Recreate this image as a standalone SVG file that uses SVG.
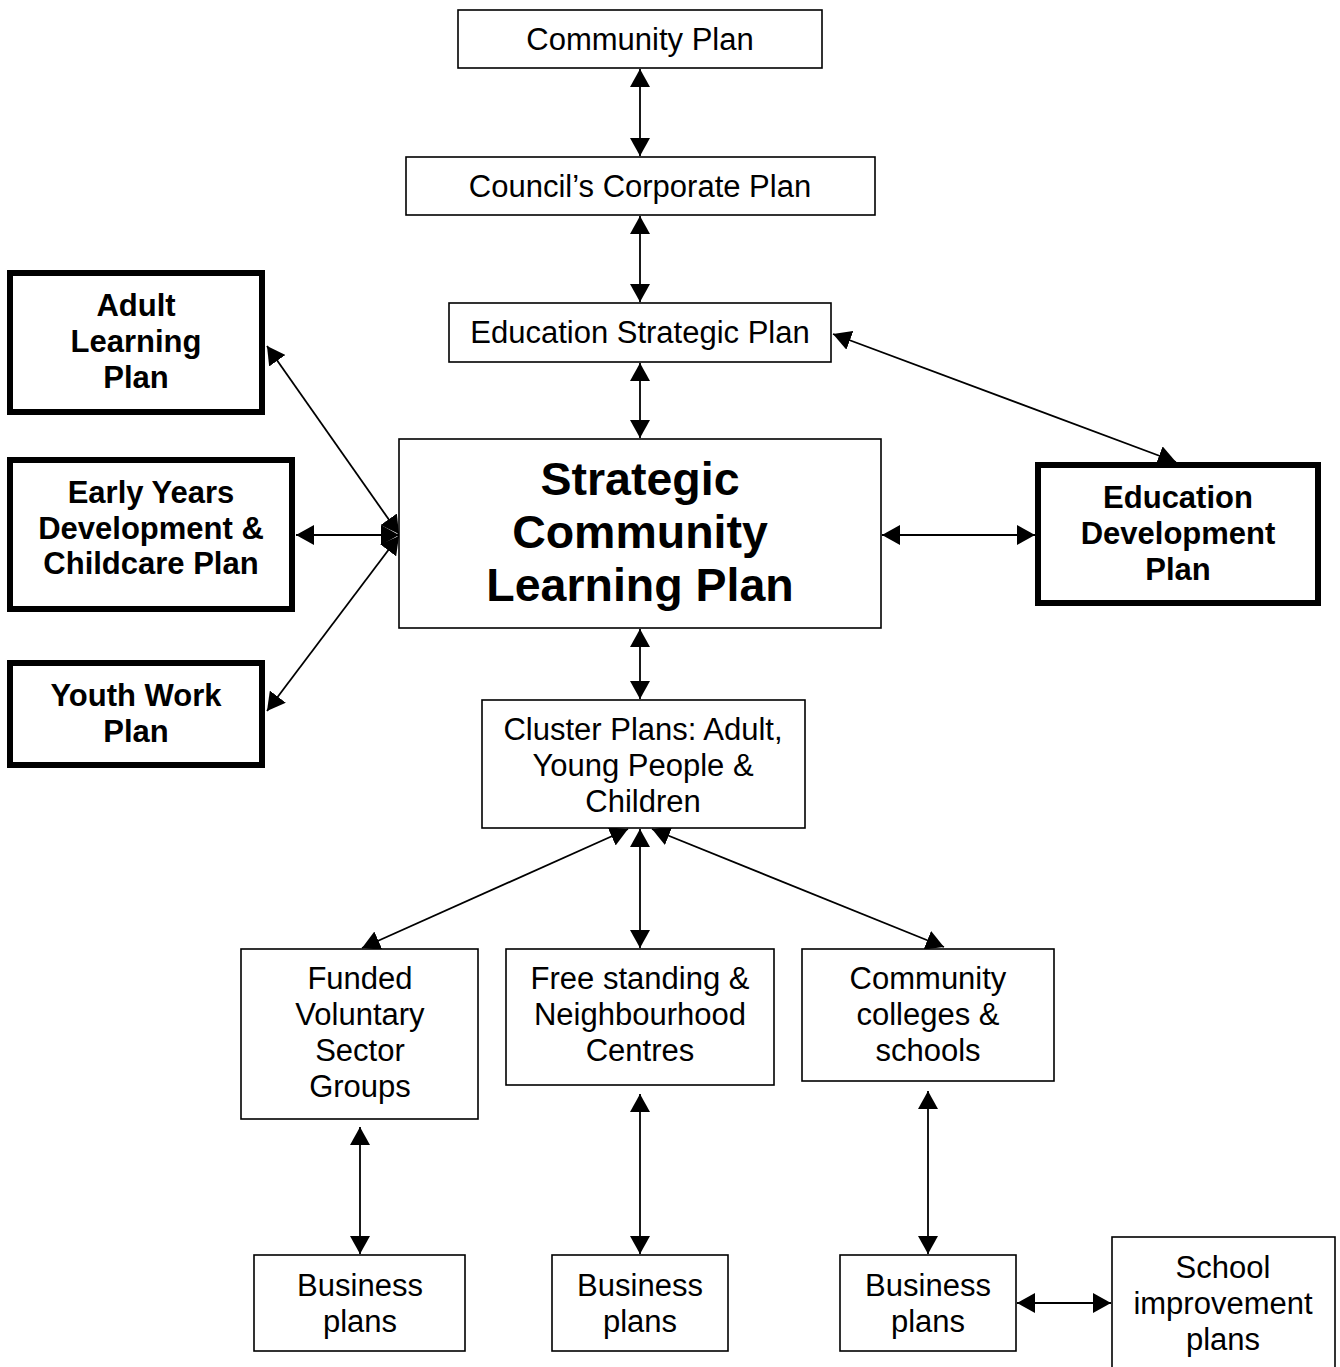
<svg xmlns="http://www.w3.org/2000/svg" width="1340" height="1367" viewBox="0 0 1340 1367">
<defs>
<style>
.box{fill:#fff;stroke:#000;stroke-width:1.6}
.thick{fill:#fff;stroke:#000;stroke-width:6}
.t{font-family:"Liberation Sans",Arial,sans-serif;font-size:31px;text-anchor:middle;fill:#000}
.b{font-family:"Liberation Sans",Arial,sans-serif;font-size:31px;font-weight:bold;text-anchor:middle;fill:#000}
.big{font-family:"Liberation Sans",Arial,sans-serif;font-size:46.5px;font-weight:bold;text-anchor:middle;fill:#000}
.c{stroke:#000;stroke-width:1.8;fill:none;marker-start:url(#ah);marker-end:url(#ah)}
</style>
<marker id="ah" viewBox="0 0 18 20" refX="18" refY="10" markerWidth="18" markerHeight="20" markerUnits="userSpaceOnUse" orient="auto-start-reverse">
<path d="M0,0 L18,10 L0,20 z" fill="#000"/>
</marker>
</defs>
<rect width="1340" height="1367" fill="#fff"/>

<g id="connectors">
<line class="c" x1="640" y1="69" x2="640" y2="156"/>
<line class="c" x1="640" y1="216" x2="640" y2="302"/>
<line class="c" x1="640" y1="363" x2="640" y2="438"/>
<line class="c" x1="640" y1="629" x2="640" y2="699"/>
<line class="c" x1="833" y1="334" x2="1176" y2="462"/>
<line class="c" x1="882" y1="535" x2="1035" y2="535"/>
<line class="c" x1="267" y1="346" x2="399" y2="534"/>
<line class="c" x1="296" y1="535" x2="399" y2="535"/>
<line class="c" x1="267" y1="711" x2="399" y2="536"/>
<line class="c" x1="628" y1="829" x2="362" y2="948"/>
<line class="c" x1="640" y1="829" x2="640" y2="948"/>
<line class="c" x1="652" y1="829" x2="944" y2="947"/>
<line class="c" x1="360" y1="1127" x2="360" y2="1254"/>
<line class="c" x1="640" y1="1094" x2="640" y2="1254"/>
<line class="c" x1="928" y1="1091" x2="928" y2="1254"/>
<line class="c" x1="1017" y1="1303" x2="1111" y2="1303"/>
</g>

<g id="community-plan">
<rect class="box" x="458" y="10" width="364" height="58"/>
<text class="t" x="640" y="50">Community Plan</text>
</g>
<g id="councils-corporate-plan">
<rect class="box" x="406" y="157" width="469" height="58"/>
<text class="t" x="640" y="197">Council’s Corporate Plan</text>
</g>
<g id="education-strategic-plan">
<rect class="box" x="449" y="303" width="382" height="59"/>
<text class="t" x="640" y="343">Education Strategic Plan</text>
</g>
<g id="strategic-community-learning-plan">
<rect class="box" x="399" y="439" width="482" height="189"/>
<text class="big" x="640" y="495">Strategic</text>
<text class="big" x="640" y="548">Community</text>
<text class="big" x="640" y="601">Learning Plan</text>
</g>
<g id="adult-learning-plan">
<rect class="thick" x="10" y="273" width="252" height="139"/>
<text class="b" x="136" y="316">Adult</text>
<text class="b" x="136" y="352">Learning</text>
<text class="b" x="136" y="388">Plan</text>
</g>
<g id="early-years-plan">
<rect class="thick" x="10" y="460" width="282" height="149"/>
<text class="b" x="151" y="503">Early Years</text>
<text class="b" x="151" y="539">Development &amp;</text>
<text class="b" x="151" y="574">Childcare Plan</text>
</g>
<g id="youth-work-plan">
<rect class="thick" x="10" y="663" width="252" height="102"/>
<text class="b" x="136" y="706">Youth Work</text>
<text class="b" x="136" y="742">Plan</text>
</g>
<g id="education-development-plan">
<rect class="thick" x="1038" y="465" width="280" height="138"/>
<text class="b" x="1178" y="508">Education</text>
<text class="b" x="1178" y="544">Development</text>
<text class="b" x="1178" y="580">Plan</text>
</g>
<g id="cluster-plans">
<rect class="box" x="482" y="700" width="323" height="128"/>
<text class="t" x="643" y="740">Cluster Plans: Adult,</text>
<text class="t" x="643" y="776">Young People &amp;</text>
<text class="t" x="643" y="812">Children</text>
</g>
<g id="funded-voluntary">
<rect class="box" x="241" y="949" width="237" height="170"/>
<text class="t" x="360" y="989">Funded</text>
<text class="t" x="360" y="1025">Voluntary</text>
<text class="t" x="360" y="1061">Sector</text>
<text class="t" x="360" y="1097">Groups</text>
</g>
<g id="free-standing">
<rect class="box" x="506" y="949" width="268" height="136"/>
<text class="t" x="640" y="989">Free standing &amp;</text>
<text class="t" x="640" y="1025">Neighbourhood</text>
<text class="t" x="640" y="1061">Centres</text>
</g>
<g id="community-colleges">
<rect class="box" x="802" y="949" width="252" height="132"/>
<text class="t" x="928" y="989">Community</text>
<text class="t" x="928" y="1025">colleges &amp;</text>
<text class="t" x="928" y="1061">schools</text>
</g>
<g id="business-plans-1">
<rect class="box" x="254" y="1255" width="211" height="96"/>
<text class="t" x="360" y="1296">Business</text>
<text class="t" x="360" y="1332">plans</text>
</g>
<g id="business-plans-2">
<rect class="box" x="552" y="1255" width="176" height="96"/>
<text class="t" x="640" y="1296">Business</text>
<text class="t" x="640" y="1332">plans</text>
</g>
<g id="business-plans-3">
<rect class="box" x="840" y="1255" width="176" height="96"/>
<text class="t" x="928" y="1296">Business</text>
<text class="t" x="928" y="1332">plans</text>
</g>
<g id="school-improvement-plans">
<rect class="box" x="1112" y="1237" width="223" height="140"/>
<text class="t" x="1223" y="1278">School</text>
<text class="t" x="1223" y="1314">improvement</text>
<text class="t" x="1223" y="1350">plans</text>
</g>
</svg>
